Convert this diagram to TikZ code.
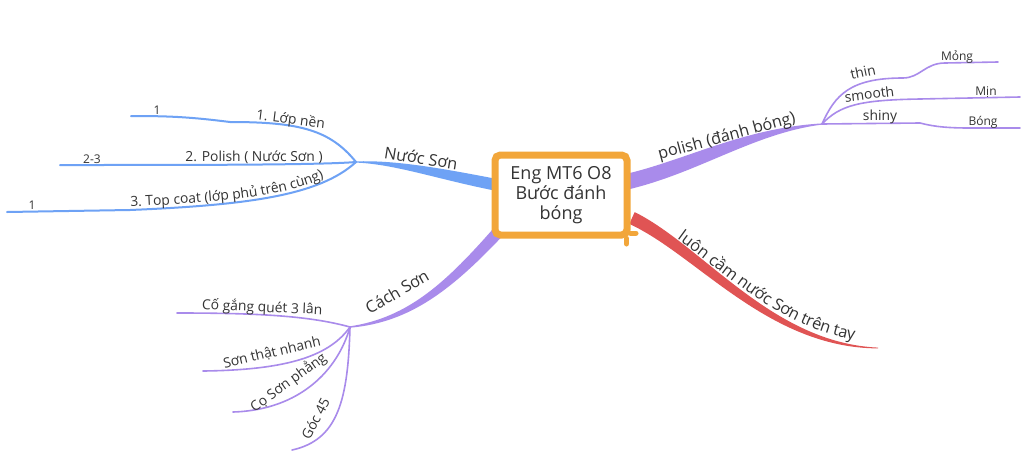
\documentclass[tikz,border=0pt]{standalone}
\usepackage{fontspec}
\setmainfont{Open Sans}
\usetikzlibrary{decorations.text}
\definecolor{txt}{HTML}{333333}
\definecolor{bblue}{HTML}{6EA2F5}
\definecolor{bpurple}{HTML}{A98BEB}
\definecolor{bred}{HTML}{E05454}
\definecolor{borange}{HTML}{F2A63A}
\newcommand\mmlone{\fontsize{12.2}{14}\selectfont}
\newcommand\mmltwo{\fontsize{10.4}{12}\selectfont}
\newcommand\mmlthree{\fontsize{9}{10}\selectfont}
\tikzset{
  lvlone/.style={font=\mmlone, text=txt, inner sep=0pt, anchor=base},
  lvltwo/.style={font=\mmltwo, text=txt, inner sep=0pt, anchor=base},
  lvlthree/.style={font=\mmlthree, text=txt, inner sep=0pt, anchor=base},
  thinblue/.style={draw=bblue, line width=1.5pt, line cap=round},
  thinpurple/.style={draw=bpurple, line width=1.2pt, line cap=round},
  centerbox/.style={draw=borange, fill=white, line width=5.25pt, rounded corners=4pt,
    minimum width=99pt, minimum height=60pt, align=center, text=txt,
    font=\fontsize{13.5}{15}\selectfont, inner sep=0pt},
  stub/.style={draw=borange, line width=4pt, line cap=round}
}
\begin{document}
\begin{tikzpicture}[x=0.75pt,y=-0.75pt]
\useasboundingbox (0,0) rectangle (1024,457);
\fill[white] (0,0) rectangle (1024,457);

% hubs and free ends
\coordinate (hubN) at (356,162);
\coordinate (hubP) at (822,124);
\coordinate (hubC) at (350,327);
\coordinate (endN1) at (131,116);
\coordinate (endN2) at (60,165);
\coordinate (endN3) at (7,212);
\coordinate (endP1) at (998,62);
\coordinate (endP2) at (1020,97);
\coordinate (endP3) at (1020,128);
\coordinate (endC1) at (177,313);
\coordinate (endC2) at (203,371);
\coordinate (endC3) at (233,412);
\coordinate (endC4) at (292,450);

% main tapered branches
\fill[bblue] (356,161.4) .. controls (395,160) and (440,168) .. (497,179)
  -- (497,191) .. controls (440,180) and (395,164) .. (356,162.6) -- cycle;
\fill[bpurple] (630,173) .. controls (690,158) and (745,128) .. (822,123.4)
  -- (822,124.6) .. controls (755,133) and (700,172) .. (630,189) -- cycle;
\fill[bpurple] (350,326.3) .. controls (409,317.5) and (447,281.5) .. (495.6,226)
  -- (504.4,234) .. controls (453,288.5) and (411,322.5) .. (350,327.7) -- cycle;
\fill[bred] (634.7,212.1) .. controls (703,246) and (772,343) .. (878,347.6)
  -- (878,348.4) .. controls (768,348) and (697,255) .. (629.3,223.9) -- cycle;

% Nuoc Son sub-branches
\draw[thinblue] (hubN) .. controls (330,130) and (300,122) .. (230,122)
  .. controls (190,117) and (170,116) .. (endN1);
\draw[thinblue] (hubN) .. controls (320,165) and (200,165) .. (endN2);
\draw[thinblue] (hubN) .. controls (320,195) and (250,205) .. (130,210) -- (endN3);

% polish sub-branches
\draw[thinpurple] (hubP) .. controls (835,95) and (850,78) .. (903,78)
  .. controls (920,78) and (925,63) .. (945,63) -- (endP1);
\draw[thinpurple] (hubP) .. controls (840,105) and (860,100) .. (920,99) -- (endP2);
\draw[thinpurple] (hubP) -- (920,123) .. controls (935,127) and (950,128) .. (970,128) -- (endP3);

% Cach Son sub-branches
\draw[thinpurple] (hubC) .. controls (310,316) and (260,313) .. (endC1);
\draw[thinpurple] (hubC) .. controls (330,355) and (290,370) .. (endC2);
\draw[thinpurple] (hubC) .. controls (338,370) and (300,410) .. (endC3);
\draw[thinpurple] (hubC) .. controls (348,400) and (338,440) .. (endC4);

% central box
\node[centerbox] (center) at (561,195) {Eng MT6 O8\\Bước đánh\\bóng};
\draw[stub] ([xshift=-3pt]center.south east) -- ++(0,-4pt);
\draw[stub] ([yshift=4pt]center.south east) -- ++(4pt,0);

% level one labels
\node[lvlone, rotate=-9] (lN) at (420,164) {Nước Sơn};
\node[lvlone, rotate=15] (lP) at (728,141) {polish (đánh bóng)};
\node[lvlone, rotate=30] (lC) at (400,297) {Cách Sơn};
\path[decorate, decoration={text along path, text align={center, left indent=18pt},
  raise=4.5pt, text={|\mmlone\color{txt}|luôn cầm nước Sơn trên tay}}]
  (632,218) .. controls (700,250) and (770,345) .. (878,348);

% level two labels
\node[lvltwo, rotate=-7] (n1) at (290,124) {1. Lớp nền};
\node[lvltwo] (n2) at (254,161) {2. Polish ( Nước Sơn )};
\path[decorate, decoration={text along path, text align={left, left indent=2pt},
  raise=2.5pt, text={|\mmltwo\color{txt}|3. Top coat (lớp phủ trên cùng)}}]
  (128,210) .. controls (250,205) and (320,195) .. (356,162);
\node[lvltwo, rotate=12] (p1) at (864,77) {thin};
\node[lvltwo, rotate=7] (p2) at (870,99) {smooth};
\node[lvltwo] (p3) at (880,120) {shiny};
\node[lvltwo, rotate=-2.5] (c1) at (262,312) {Cố gắng quét 3 lân};
\node[lvltwo, rotate=13] (c2) at (273,357) {Sơn thật nhanh};
\node[lvltwo, rotate=36] (c3) at (291,386) {Cọ Sơn phẳng};
\node[lvltwo, rotate=62] (c4) at (320,421) {Góc 45};

% level three labels
\node[lvlthree] (n1a) at (157,114) {1};
\node[lvlthree] (n2a) at (92,163) {2-3};
\node[lvlthree] (n3a) at (32,209) {1};
\node[lvlthree] (p1a) at (957,60) {Mỏng};
\node[lvlthree] (p2a) at (986,95) {Mịn};
\node[lvlthree] (p3a) at (983,125) {Bóng};
\end{tikzpicture}
\end{document}
